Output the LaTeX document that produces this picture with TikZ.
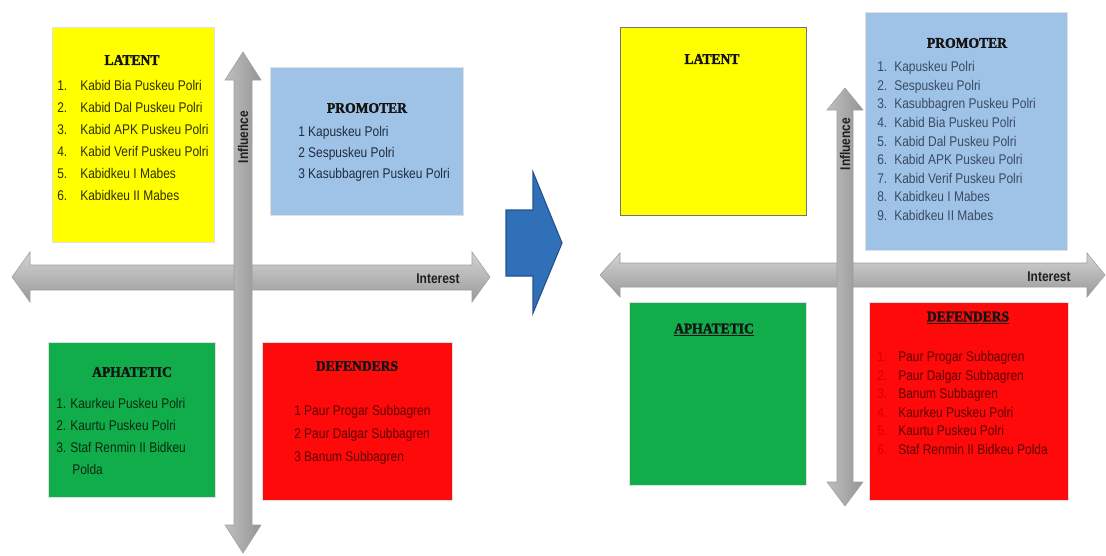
\documentclass[tikz,border=0pt]{standalone}
\usepackage{fontspec}
\setmainfont{Liberation Serif}
\newfontfamily\listfont[FakeStretch=0.85]{Liberation Sans}
\newfontfamily\titlefont[FakeBold=2,FakeStretch=0.92]{Liberation Serif Bold}
\usetikzlibrary{positioning}

\definecolor{latentyellow}{HTML}{FFFF00}
\definecolor{promoterblue}{HTML}{9FC3E7}
\definecolor{apathgreen}{HTML}{12AD4B}
\definecolor{defendred}{HTML}{FF0A0A}
\definecolor{arrowblue}{HTML}{3070B8}
\definecolor{arrowedge}{HTML}{27508E}
\definecolor{latenttext}{HTML}{2E2E00}
\definecolor{promotertext}{HTML}{1E2C40}
\definecolor{promotertextb}{HTML}{394A64}
\definecolor{greentext}{HTML}{072A10}
\definecolor{redtext}{HTML}{5E0000}

\tikzset{
  quad/.style={draw=black!12, line width=0.4pt},
  quadtitle/.style={font=\titlefont\fontsize{10.5}{12}\selectfont, text=black!92, inner sep=0pt},
  item/.style={font=\listfont\fontsize{10}{12}\selectfont, anchor=west, inner sep=0pt,
    text height=1.6ex, text depth=.45ex},
  hbar/.style={draw=black!38, line width=0.4pt, top color=black!17, bottom color=black!40},
  vbar/.style={draw=black!38, line width=0.4pt, left color=black!25, right color=black!42},
  axislabel/.style={font=\listfont\bfseries\fontsize{10}{12}\selectfont, text=black!88, inner sep=0pt},
  bigarrow/.style={fill=arrowblue, draw=arrowedge, line width=0.8pt, line join=miter}
}

\begin{document}
\begin{tikzpicture}[x=0.025cm, y=-0.025cm]
\useasboundingbox (0,0) rectangle (1106,555);

%% left matrix
\draw[quad, fill=latentyellow] (52,27) rectangle (214,242);
\draw[quad, fill=promoterblue] (270,67) rectangle (463,215);
\draw[quad, fill=apathgreen] (48,342) rectangle (215,497);
\draw[quad, fill=defendred] (262,342) rectangle (452,500);

\node[quadtitle] (latL) at (132,60) {LATENT};
\foreach \txt [count=\i] in {Kabid Bia Puskeu Polri, Kabid Dal Puskeu Polri,
    Kabid APK Puskeu Polri, Kabid Verif Puskeu Polri, Kabidkeu I Mabes, Kabidkeu II Mabes}
{
  \node[item, text=latenttext] (latL-n\i) at (57,{87+22*(\i-1)}) {\i.};
  \node[item, text=latenttext] (latL-\i) at (80,{87+22*(\i-1)}) {\txt};
}

\node[quadtitle] (proL) at (367,108) {PROMOTER};
\foreach \txt [count=\i] in {1 Kapuskeu Polri, 2 Sespuskeu Polri, 3 Kasubbagren Puskeu Polri}
  \node[item, text=promotertext] (proL-\i) at (298,{133+21*(\i-1)}) {\txt};

\node[quadtitle] (apaL) at (132,372) {APHATETIC};
\foreach \txt [count=\i] in {Kaurkeu Puskeu Polri, Kaurtu Puskeu Polri, Staf Renmin II Bidkeu}
{
  \node[item, text=greentext] (apaL-n\i) at (56,{405+22*(\i-1)}) {\i.};
  \node[item, text=greentext] (apaL-\i) at (70,{405+22*(\i-1)}) {\txt};
}
\node[item, text=greentext] (apaL-3b) at (72,471) {Polda};

\node[quadtitle] (defL) at (357,366) {DEFENDERS};
\foreach \txt [count=\i] in {1 Paur Progar Subbagren, 2 Paur Dalgar Subbagren, 3 Banum Subbagren}
  \node[item, text=redtext] (defL-\i) at (294,{412+23*(\i-1)}) {\txt};

% axes
\path[hbar] (12,277) -- (30,252) -- (30,265) -- (472,265) -- (472,252) -- (490,277)
  -- (472,302) -- (472,290) -- (30,290) -- (30,302) -- cycle;
\path[vbar] (243,52) -- (261,80) -- (252,80) -- (252,525) -- (261,525) -- (243,553)
  -- (225,525) -- (234,525) -- (234,80) -- (225,80) -- cycle;
\node[axislabel, rotate=90] (inflL) at (243,137) {Influence};
\node[axislabel] (intrL) at (438,279) {Interest};

%% transition arrow
\path[bigarrow] (506,210) -- (533,210) -- (533,172) -- (562,243) -- (533,313)
  -- (533,276) -- (506,276) -- cycle;

%% right matrix
\draw[quad, draw=black!55, fill=latentyellow] (620,27) rectangle (806,215);
\draw[quad, fill=promoterblue] (865,12) rectangle (1067,250);
\draw[quad, fill=apathgreen] (629,302) rectangle (806,485);
\draw[quad, fill=defendred] (869,302) rectangle (1068,500);

\node[quadtitle] (latR) at (712,59) {LATENT};

\node[quadtitle] (proR) at (967,43) {PROMOTER};
\foreach \txt [count=\i] in {Kapuskeu Polri, Sespuskeu Polri, Kasubbagren Puskeu Polri,
    Kabid Bia Puskeu Polri, Kabid Dal Puskeu Polri, Kabid APK Puskeu Polri,
    Kabid Verif Puskeu Polri, Kabidkeu I Mabes, Kabidkeu II Mabes}
{
  \node[item, text=promotertextb] (proR-n\i) at (877,{68+18.6*(\i-1)}) {\i.};
  \node[item, text=promotertextb] (proR-\i) at (894,{68+18.6*(\i-1)}) {\txt};
}

\node[quadtitle] (apaR) at (714,330) {\underline{APHATETIC}};

\node[quadtitle] (defR) at (968,318) {\underline{DEFENDERS}};
\foreach \txt [count=\i] in {Paur Progar Subbagren, Paur Dalgar Subbagren, Banum Subbagren,
    Kaurkeu Puskeu Polri, Kaurtu Puskeu Polri, Staf Renmin II Bidkeu Polda}
{
  \node[item, text=red!85!black] (defR-n\i) at (877,{358+18.5*(\i-1)}) {\i.};
  \node[item, text=redtext] (defR-\i) at (898,{358+18.5*(\i-1)}) {\txt};
}

% axes
\path[hbar] (600,275) -- (620,253) -- (620,263) -- (1087,263) -- (1087,253) -- (1105,275)
  -- (1087,297) -- (1087,287) -- (620,287) -- (620,297) -- cycle;
\path[vbar] (845,88) -- (863,110) -- (853,110) -- (853,482) -- (863,482) -- (845,506)
  -- (827,482) -- (837,482) -- (837,110) -- (827,110) -- cycle;
\node[axislabel, rotate=90] (inflR) at (845,144) {Influence};
\node[axislabel] (intrR) at (1049,277) {Interest};
\end{tikzpicture}
\end{document}
